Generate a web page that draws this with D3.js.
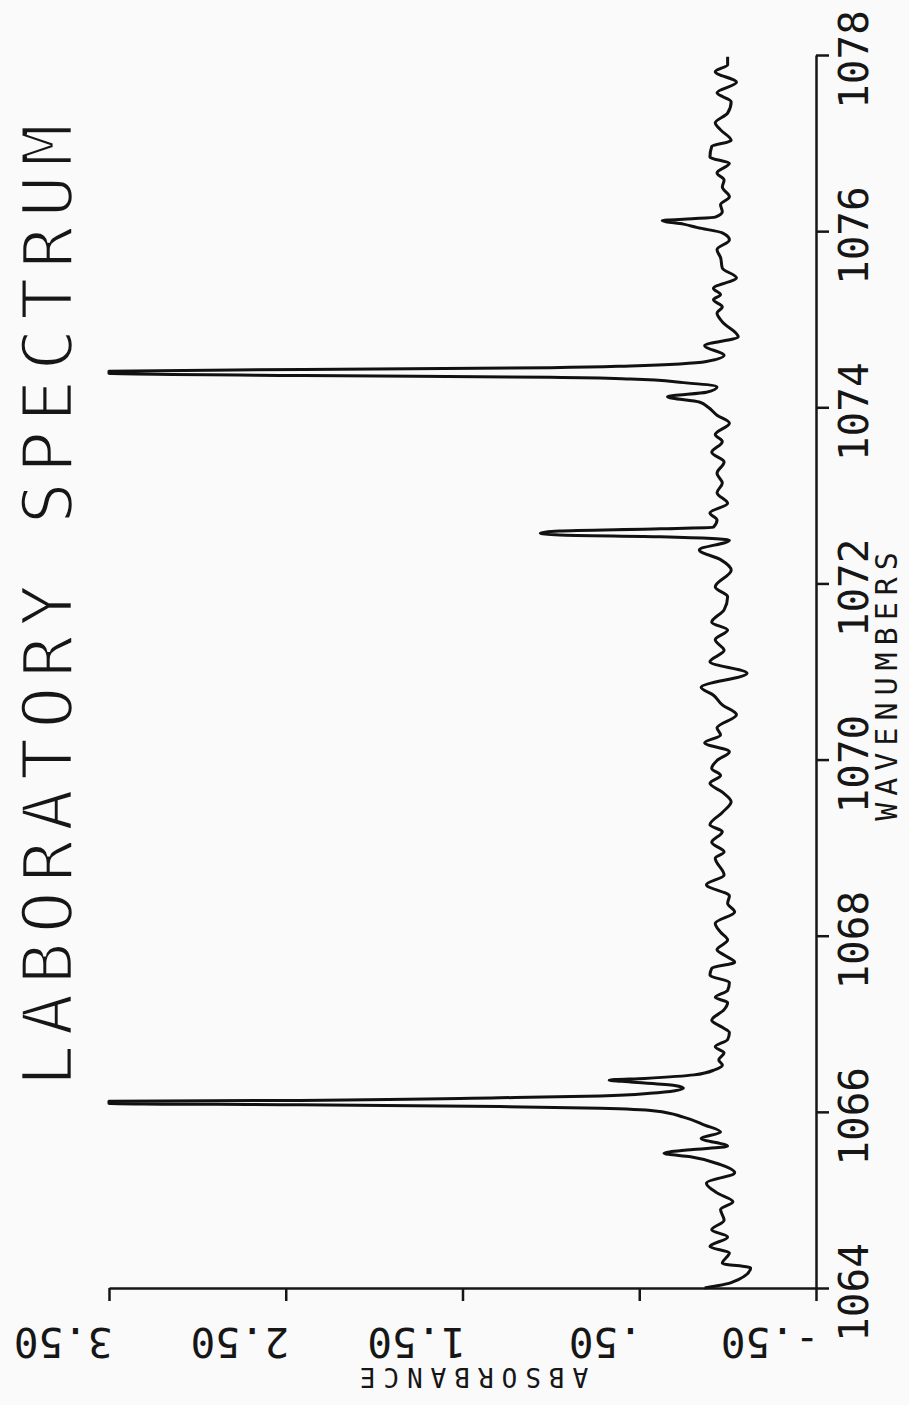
<!DOCTYPE html>
<html>
<head>
<meta charset="utf-8">
<script src="https://cdn.jsdelivr.net/npm/d3@7"></script>
<style>
  body { margin: 0; background: #fafafa; }
  svg { display: block; }
  text { font-family: "DejaVu Sans Mono", monospace; fill: #161616; }
</style>
</head>
<body>
<script>
// values (wavenumber, absorbance)
var wavenumbers = [
  1064.00, 1064.06, 1064.23, 1064.28, 1064.40, 1064.47, 1064.58, 1064.66, 1064.77, 1064.89,
  1064.98, 1065.08, 1065.19, 1065.31, 1065.40, 1065.49, 1065.53, 1065.57, 1065.61, 1065.70,
  1065.77, 1065.85, 1065.94, 1066.01, 1066.04, 1066.06, 1066.08, 1066.095, 1066.12, 1066.13,
  1066.16, 1066.18, 1066.21, 1066.27, 1066.30, 1066.34, 1066.36, 1066.38, 1066.42, 1066.48,
  1066.53, 1066.59, 1066.67, 1066.74, 1066.82, 1066.90, 1066.96, 1067.04, 1067.16, 1067.24,
  1067.30, 1067.38, 1067.47, 1067.55, 1067.63, 1067.70, 1067.78, 1067.84, 1067.95, 1068.04,
  1068.14, 1068.27, 1068.37, 1068.45, 1068.58, 1068.69, 1068.88, 1068.95, 1069.06, 1069.18,
  1069.26, 1069.40, 1069.52, 1069.63, 1069.73, 1069.82, 1069.90, 1069.99, 1070.09, 1070.19,
  1070.28, 1070.36, 1070.51, 1070.62, 1070.73, 1070.82, 1070.98, 1071.11, 1071.24, 1071.36,
  1071.47, 1071.56, 1071.70, 1071.85, 1071.96, 1072.15, 1072.27, 1072.38, 1072.49, 1072.53,
  1072.55, 1072.57, 1072.595, 1072.62, 1072.64, 1072.72, 1072.80, 1072.91, 1073.03, 1073.14,
  1073.25, 1073.38, 1073.49, 1073.61, 1073.69, 1073.82, 1073.91, 1074.00, 1074.06, 1074.12,
  1074.17, 1074.23, 1074.28, 1074.32, 1074.34, 1074.36, 1074.385, 1074.41, 1074.43, 1074.45,
  1074.47, 1074.52, 1074.59, 1074.70, 1074.80, 1074.97, 1075.07, 1075.14, 1075.22, 1075.28,
  1075.35, 1075.47, 1075.58, 1075.70, 1075.79, 1075.90, 1075.98, 1076.04, 1076.08, 1076.12,
  1076.14, 1076.16, 1076.22, 1076.30, 1076.39, 1076.50, 1076.58, 1076.66, 1076.77, 1076.84,
  1076.96, 1077.03, 1077.15, 1077.23, 1077.34, 1077.47, 1077.57, 1077.69, 1077.81, 1077.89,
  1077.98
];
var absorbance = [
  0.13, -0.02, -0.13, 0.03, -0.01, 0.10, 0.00, 0.09, 0.02, 0.04,
  -0.03, 0.06, 0.12, -0.04, 0.04, 0.21, 0.36, 0.21, 0.00, 0.15,
  0.04, 0.13, 0.25, 0.41, 0.72, 1.29, 2.42, 3.50, 3.50, 2.42,
  1.29, 0.72, 0.44, 0.25, 0.30, 0.55, 0.67, 0.47, 0.19, 0.07,
  0.03, 0.05, 0.02, 0.07, 0.00, -0.01, 0.03, 0.09, 0.02, 0.00,
  0.07, 0.00, -0.01, 0.10, 0.09, -0.04, 0.02, 0.06, 0.00, 0.04,
  0.07, -0.04, 0.00, -0.01, 0.12, 0.02, 0.07, 0.02, 0.09, 0.03,
  0.10, 0.03, -0.02, 0.03, 0.10, 0.04, 0.09, 0.06, -0.01, 0.13,
  0.04, 0.06, -0.05, 0.03, 0.08, 0.15, -0.11, 0.10, 0.02, 0.07,
  0.00, 0.09, 0.02, 0.00, 0.07, -0.02, 0.04, 0.16, -0.01, 0.38,
  0.95, 1.06, 0.95, 0.38, 0.08, 0.06, 0.10, 0.00, 0.06, 0.03,
  0.06, 0.02, 0.09, 0.03, 0.07, -0.01, 0.06, 0.11, 0.16, 0.34,
  0.12, 0.06, 0.25, 0.55, 1.00, 2.40, 3.50, 3.50, 2.40, 1.00,
  0.55, 0.12, 0.02, 0.13, -0.06, 0.03, 0.06, 0.03, 0.08, 0.04,
  0.08, -0.05, 0.03, 0.04, 0.06, -0.01, 0.03, 0.17, 0.25, 0.37,
  0.20, 0.07, 0.03, 0.04, -0.01, 0.03, 0.02, 0.06, -0.01, 0.10,
  0.09, -0.02, 0.04, 0.07, 0.00, -0.02, 0.06, -0.05, 0.07, 0.00,
  0.00
];
var wavenumberTicks = [1064, 1066, 1068, 1070, 1072, 1074, 1076, 1078];
var absorbanceTicks = [-0.5, 0.5, 1.5, 2.5, 3.5];
var title = "LABORATORY SPECTRUM";
var xLabel = "WAVENUMBERS";
var yLabel = "ABSORBANCE";

var width = 909, height = 1405;

// the sheet is turned a quarter turn: wavenumbers go up the right side,
// absorbance grows from right to left along the bottom
var wScale = d3.scaleLinear().domain([1064, 1078]).range([1288, 55]);
var aScale = d3.scaleLinear().domain([-0.5, 3.5]).range([816, 109]);

var svg = d3.select('body')
    .append('svg')
    .attr('width', width)
    .attr('height', height);

// wavenumber axis
var wAxis = svg.append('g')
    .attr('transform', 'translate(816,0)')
    .call(d3.axisRight(wScale)
        .tickValues(wavenumberTicks)
        .tickSize(13)
        .tickSizeOuter(0)
        .tickFormat(d3.format('d')));
wAxis.selectAll('.tick text')
    .attr('x', 0)
    .attr('dy', null)
    .attr('text-anchor', 'middle')
    .attr('font-size', 41)
    .attr('transform', 'translate(52,4) rotate(-90)');

// absorbance axis, labels upside down
function absFormat(d) { return d.toFixed(2).replace(/^(-?)0\./, '$1.'); }
var aAxis = svg.append('g')
    .attr('transform', 'translate(0,1288)')
    .call(d3.axisBottom(aScale)
        .tickValues(absorbanceTicks)
        .tickSize(13)
        .tickSizeOuter(0)
        .tickFormat(absFormat));
aAxis.selectAll('.tick text')
    .attr('y', 0)
    .attr('dy', null)
    .attr('text-anchor', 'start')
    .attr('font-size', 41)
    .attr('transform', 'translate(3,40) rotate(180)');

svg.selectAll('.domain, .tick line')
    .attr('stroke', '#161616')
    .attr('stroke-width', 2.5);

// spectrum trace
var pts = d3.zip(wavenumbers, absorbance);
var line = d3.line()
    .x(function(d) { return aScale(d[1]); })
    .y(function(d) { return wScale(d[0]); })
    .curve(d3.curveMonotoneY);
svg.append('path')
    .datum(pts)
    .attr('d', line)
    .attr('fill', 'none')
    .attr('stroke', '#111')
    .attr('stroke-width', 3)
    .attr('stroke-linejoin', 'round');

// labels
// big title: a background-coloured stroke thins the glyphs like a plotter pen
svg.append('text')
    .attr('transform', 'translate(72,601) rotate(-90)')
    .attr('text-anchor', 'middle')
    .attr('font-size', 70)
    .attr('letter-spacing', 9)
    .attr('stroke', '#fafafa')
    .attr('stroke-width', 2.5)
    .text(title);

svg.append('text')
    .attr('transform', 'translate(897,683) rotate(-90)')
    .attr('text-anchor', 'middle')
    .attr('font-size', 30)
    .attr('letter-spacing', 7)
    .text(xLabel);

svg.append('text')
    .attr('transform', 'translate(470,1368) rotate(180)')
    .attr('text-anchor', 'middle')
    .attr('font-size', 26)
    .attr('letter-spacing', 8)
    .text(yLabel);
</script>
</body>
</html>
